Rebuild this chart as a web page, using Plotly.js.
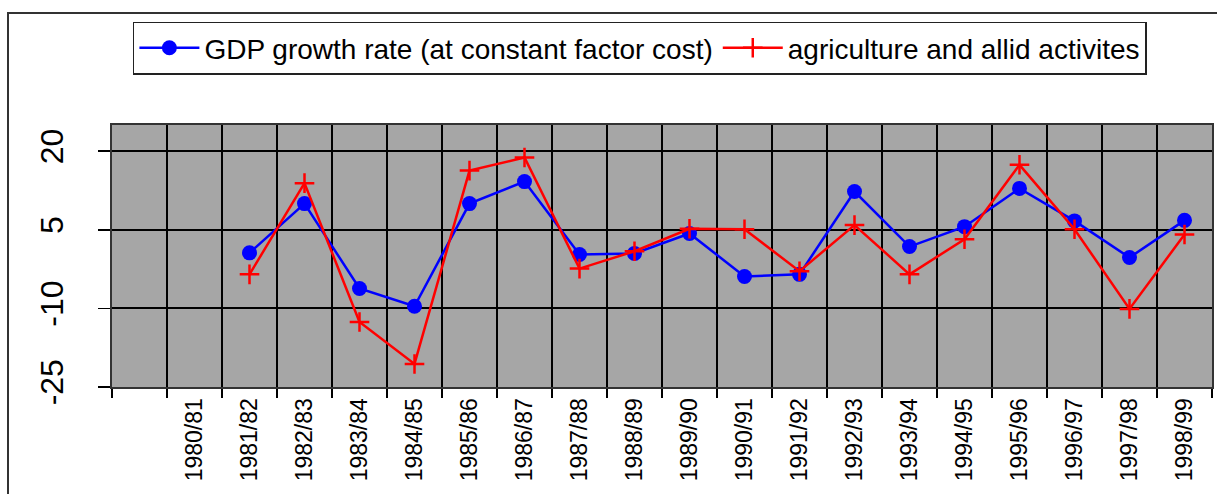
<!DOCTYPE html>
<html>
<head>
<meta charset="utf-8">
<script src="https://cdn.plot.ly/plotly-3.0.1.min.js"></script>
<style>
  html, body { margin: 0; padding: 0; background: #ffffff; }
  #wrap { position: relative; width: 1217px; height: 494px; overflow: hidden; }
  #frame { position: absolute; left: 7px; top: 12px; width: 1240px; height: 520px;
           border-left: 2px solid #333; border-top: 2px solid #333; box-sizing: border-box; }
  #chart { position: absolute; left: 0; top: 0; width: 1217px; height: 494px; }
</style>
</head>
<body>
<div id="wrap">
  <div id="frame"></div>
  <div id="chart"></div>
</div>
<script>
// Category axis (first slot is an empty column, as in the reference)
const categories = [" ", "1980/81", "1981/82", "1982/83", "1983/84", "1984/85", "1985/86",
  "1986/87", "1987/88", "1988/89", "1989/90", "1990/91", "1991/92", "1992/93",
  "1993/94", "1994/95", "1995/96", "1996/97", "1997/98", "1998/99"];

// Years that carry data
const years = ["1981/82", "1982/83", "1983/84", "1984/85", "1985/86", "1986/87",
  "1987/88", "1988/89", "1989/90", "1990/91", "1991/92", "1992/93", "1993/94",
  "1994/95", "1995/96", "1996/97", "1997/98", "1998/99"];

// GDP growth rate (at constant factor cost)
const gdpGrowth = [0.6, 10.0, -6.2, -9.6, 10.0, 14.2, 0.3, 0.5, 4.3, -3.9, -3.5,
  12.3, 1.8, 5.6, 12.9, 6.7, -0.3, 6.8];

// agriculture and allid activites
const agriGrowth = [-3.5, 13.9, -12.6, -20.6, 16.3, 18.8, -2.4, 0.9, 5.2, 5.1, -2.9,
  5.9, -3.5, 3.2, 17.4, 5.1, -10.1, 4.1];

const yTicks = [-25, -10, 5, 20];

const traces = [
  {
    x: years, y: gdpGrowth, type: "scatter", mode: "lines+markers",
    name: "GDP growth rate (at constant factor cost)",
    line: { color: "#0000ff", width: 2.5 },
    marker: { color: "#0000ff", size: 15, symbol: "circle" }
  },
  {
    x: years, y: agriGrowth, type: "scatter", mode: "lines+markers",
    name: "agriculture and allid activites",
    line: { color: "#ff0000", width: 2.5 },
    marker: { color: "#ff0000", size: 14, symbol: "cross-thin", line: { color: "#ff0000", width: 2.5 } }
  }
];

const layout = {
  width: 1217, height: 494,
  margin: { l: 112, r: 5, t: 125, b: 107 },
  paper_bgcolor: "rgba(0,0,0,0)",
  plot_bgcolor: "#a6a6a6",
  font: { family: "Liberation Sans, Arial, sans-serif", color: "#000000" },
  showlegend: true,
  legend: {
    orientation: "h", x: 0.019, xanchor: "left", y: 1.395, yanchor: "top",
    bgcolor: "#ffffff", bordercolor: "#222222", borderwidth: 1.5,
    itemwidth: 60,
    font: { size: 28, color: "#000000" }, itemclick: false
  },
  xaxis: {
    type: "category", categoryorder: "array", categoryarray: categories,
    range: [-0.5, categories.length - 0.5],
    tickson: "boundaries", ticks: "outside", ticklen: 9, tickwidth: 1.5, tickcolor: "#000",
    showgrid: true, gridcolor: "#000000", gridwidth: 2,
    tickangle: -90, tickfont: { size: 23, color: "#000" },
    showline: true, mirror: true, linecolor: "#333333", linewidth: 2,
    zeroline: false, fixedrange: true
  },
  yaxis: {
    range: [-25, 25], tickvals: yTicks, ticktext: yTicks.map(String),
    ticks: "outside", ticklen: 12, tickwidth: 1.5, tickcolor: "#000",
    showgrid: true, gridcolor: "#000000", gridwidth: 2,
    tickangle: -90, tickfont: { size: 32, color: "#000" },
    ticklabelstandoff: 22,
    showline: true, mirror: true, linecolor: "#333333", linewidth: 2,
    zeroline: false, fixedrange: true
  }
};

Plotly.newPlot("chart", traces, layout, { displayModeBar: false, staticPlot: true });
</script>
</body>
</html>
